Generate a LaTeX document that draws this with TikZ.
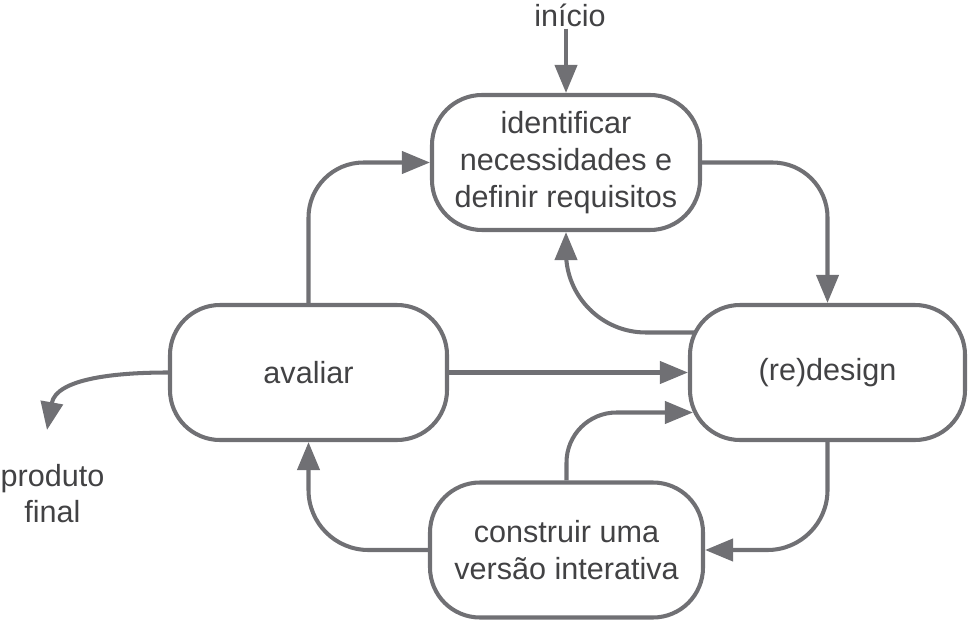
\documentclass[tikz,border=0pt]{standalone}
\usepackage{fontspec}
\setmainfont{Liberation Sans}
\usepackage{tikz}
\usetikzlibrary{arrows.meta, positioning, calc, backgrounds}

\definecolor{linha}{RGB}{112,112,116}
\definecolor{texto}{RGB}{66,66,68}

\tikzset{
  etapa/.style={draw=linha, line width=2.3pt, rounded corners=1cm, fill=white, align=center, text=texto, inner sep=0pt, minimum height=2.7cm, font=\fontsize{17.4}{20.9}\selectfont},
  rotulo/.style={align=center, text=texto, inner sep=1pt, font=\fontsize{17.4}{20.9}\selectfont},
  fluxo/.style={draw=linha, line width=2.3pt, -{Triangle[length=0.56cm,width=0.44cm]}, rounded corners=1.1cm}
}

\begin{document}
\begin{tikzpicture}
\useasboundingbox (0,0) rectangle (19.38,-12.42);

\node (ident) [etapa, minimum width=5.36cm] at (11.32,-3.25) {identificar\\necessidades e\\definir requisitos};
\node (design) [etapa, minimum width=5.5cm] at (16.55,-7.45) {(re)design};
\node (avaliar) [etapa, minimum width=5.54cm] at (6.17,-7.45) {avaliar};
\node (construir) [etapa, minimum width=5.46cm] at (11.33,-11.0) {construir uma\\versão interativa};

\node (inicio) [rotulo] at (11.4,-0.3) {início};
\node (final) [rotulo] at (1.05,-9.87) {produto\\final};
\coordinate (fim) at (0.94,-8.6);

\begin{pgfonlayer}{background}
\draw [fluxo] (ident.north |- inicio.south) -- (ident.north);
\draw [fluxo] (avaliar.north) |- (ident.west);
\draw [fluxo] (ident.east) -| (design.north);
\draw [fluxo, rounded corners=1.6cm] ($ (design.west) + (0.3,0.8) $) -| (ident.south);
\draw [fluxo] (avaliar.east) -- (design.west);
\draw [fluxo, rounded corners=1cm] (construir.north) |- ($ (design.west) + (0.1,-0.8) $);
\draw [fluxo, rounded corners=1.2cm] (design.south) |- (construir.east);
\draw [fluxo, rounded corners=1.2cm] (construir.west) -| (avaliar.south);
\draw [fluxo] (avaliar.west) to[out=180, in=80] (fim);
\end{pgfonlayer}
\end{tikzpicture}
\end{document}
